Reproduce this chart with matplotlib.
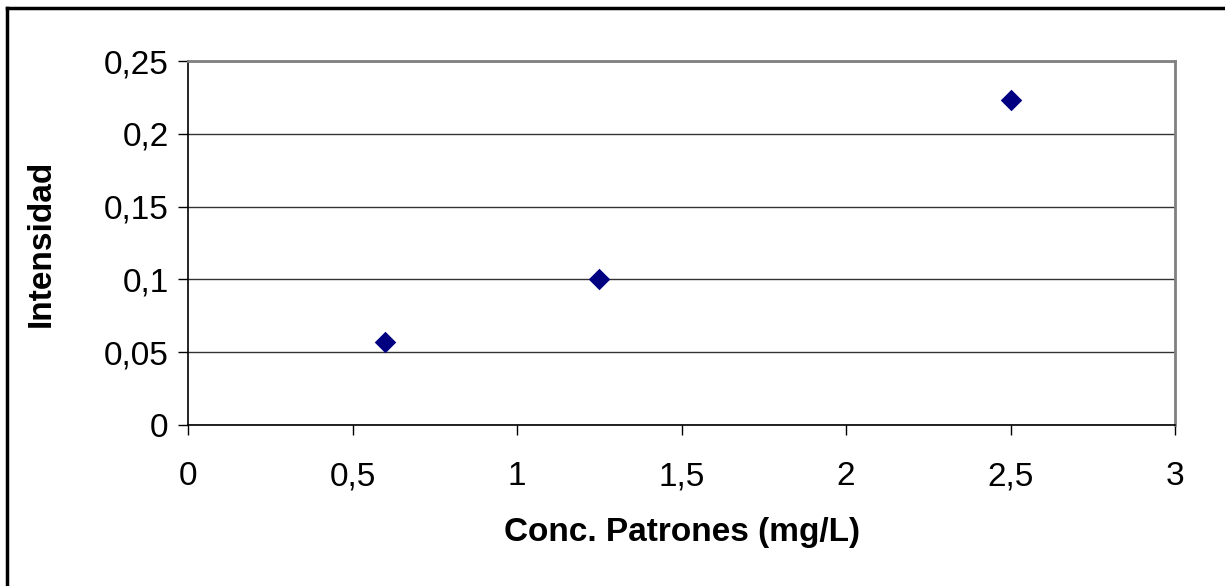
import matplotlib
matplotlib.use("Agg")
import matplotlib.pyplot as plt
from matplotlib.lines import Line2D
from matplotlib.ticker import FuncFormatter

conc = [0.6, 1.25, 2.5]
intensidad = [0.057, 0.100, 0.223]
xticks = [0, 0.5, 1, 1.5, 2, 2.5, 3]
yticks = [0, 0.05, 0.1, 0.15, 0.2, 0.25]

plt.rcParams['font.family'] = ['Liberation Sans', 'DejaVu Sans']

fig = plt.figure(figsize=(12.25, 5.86), dpi=100)
W, H = 1225, 586
x0, x1, y0, y1 = 188, 1175, 61, 425
ax = fig.add_axes([x0 / W, 1 - y1 / H, (x1 - x0) / W, (y1 - y0) / H])

ax.scatter(conc, intensidad, marker='D', s=120, color='#000080', zorder=3, linewidths=0)

ax.set_xlim(0, 3)
ax.set_ylim(0, 0.25)
ax.set_xticks(xticks)
ax.set_yticks(yticks)

def fmt(v, pos):
    s = ('%g' % v)
    return s.replace('.', ',')

ax.xaxis.set_major_formatter(FuncFormatter(fmt))
ax.yaxis.set_major_formatter(FuncFormatter(fmt))
ax.tick_params(axis='both', labelsize=24, direction='out', length=7, width=1, color='#000000')
ax.tick_params(axis='x', pad=19)
ax.tick_params(axis='y', pad=7)

ax.yaxis.grid(True, color='#333333', linewidth=1)
ax.set_axisbelow(True)
for side in ['left', 'bottom']:
    ax.spines[side].set_color('#000000')
    ax.spines[side].set_linewidth(1.2)
for side in ['top', 'right']:
    ax.spines[side].set_color('#808080')
    ax.spines[side].set_linewidth(2)

ax.set_xlabel('Conc. Patrones (mg/L)', fontsize=24, fontweight='bold', labelpad=18)
ax.set_ylabel('Intensidad', fontsize=24, fontweight='bold', labelpad=34)

# outer frame (top and left visible)
fig.add_artist(Line2D([7 / W, 1.0], [1 - 8 / H, 1 - 8 / H], color='black', linewidth=2.5,
                      transform=fig.transFigure))
fig.add_artist(Line2D([7 / W, 7 / W], [0.0, 1 - 8 / H], color='black', linewidth=2.5,
                      transform=fig.transFigure))

fig.savefig('out.png', dpi=100)
